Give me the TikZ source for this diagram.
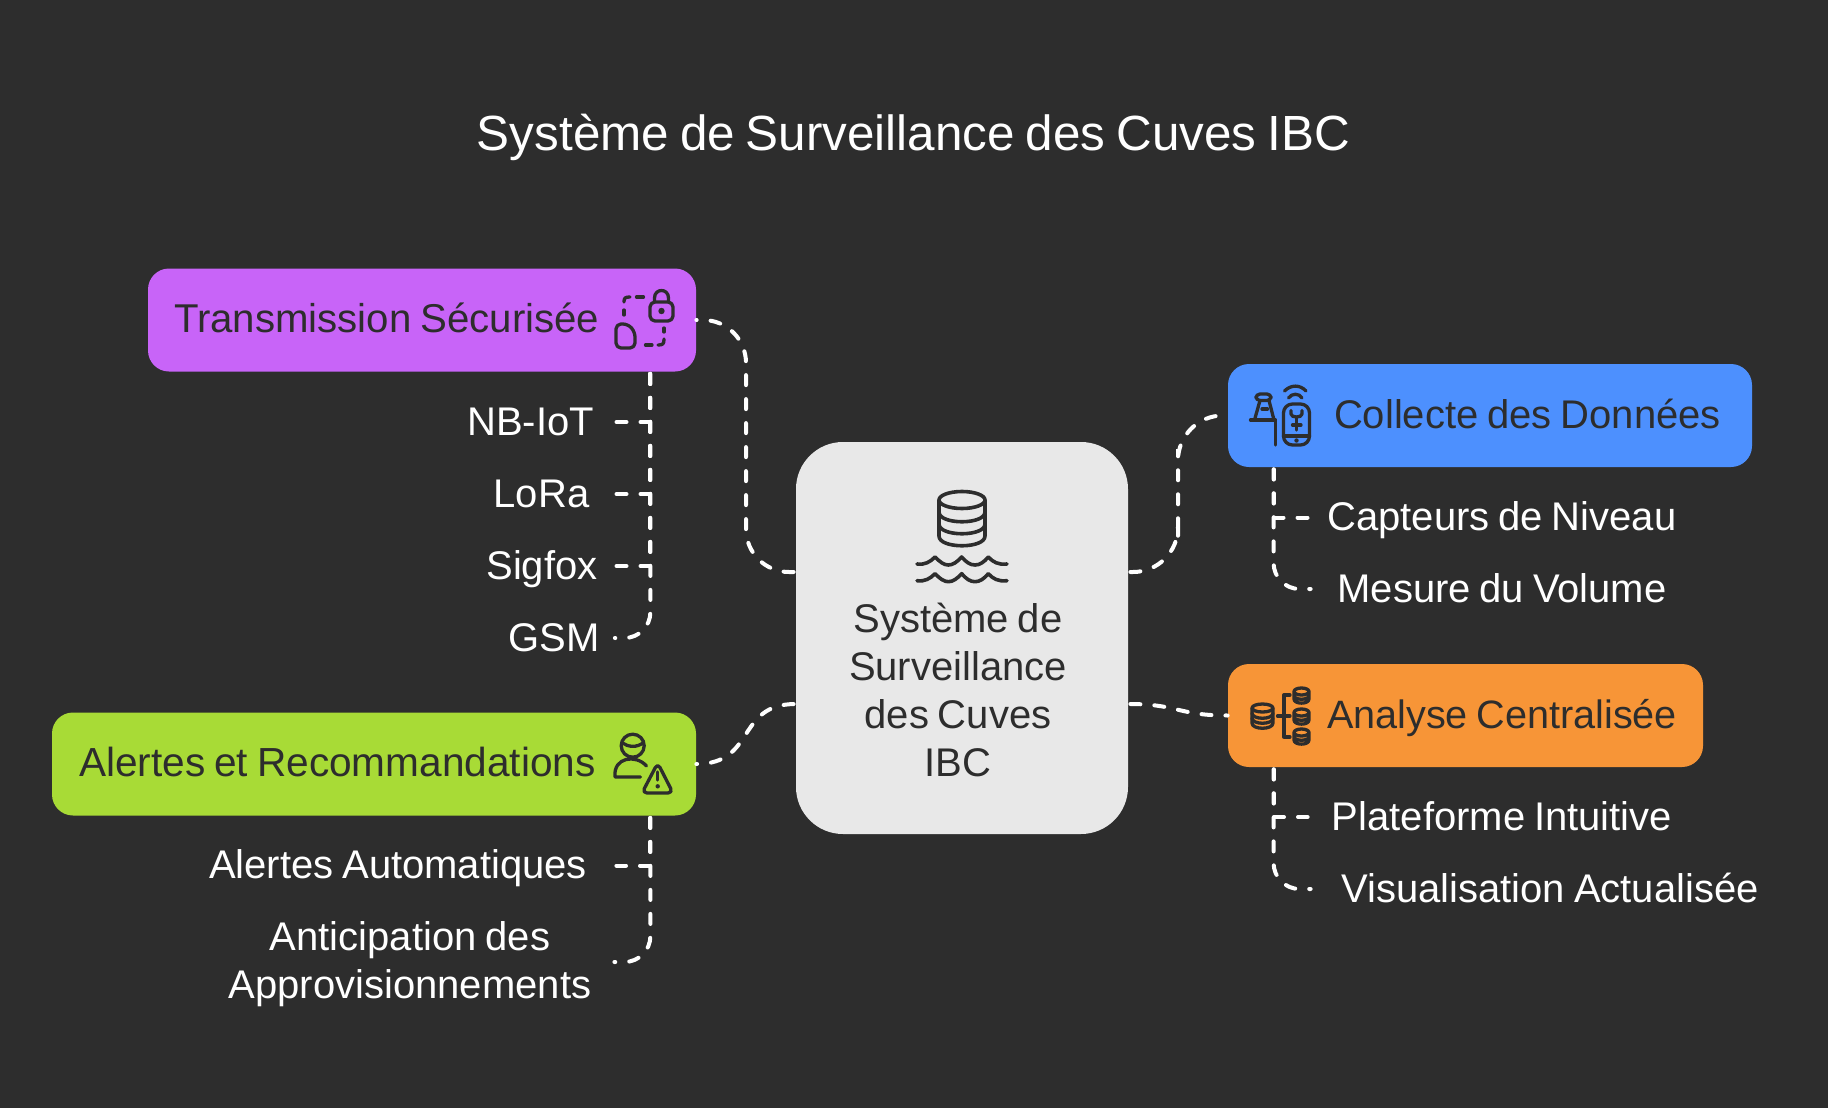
\documentclass[tikz,border=0pt]{standalone}
\usepackage{fontspec}
\setmainfont[WordSpace=0.8]{Liberation Sans}
\definecolor{boardgray}{HTML}{2D2D2D}
\definecolor{hubgray}{HTML}{E8E8E8}
\definecolor{transpurple}{HTML}{C864F8}
\definecolor{collectblue}{HTML}{4D90FE}
\definecolor{analyseorange}{HTML}{F79537}
\definecolor{alertgreen}{HTML}{A8DB36}
\begin{document}
\begin{tikzpicture}%
	[	x=0.5pt,
	y=-0.5pt,
	box/.style={rounded corners=10.5pt, minimum height=51.5pt, inner ysep=0pt, text height=13.5pt, text depth=1pt, text=boardgray, font=\fontsize{20}{24}\selectfont},
	hub/.style={rounded corners=23.5pt, minimum width=166pt, minimum height=196pt, fill=hubgray},
	hubtext/.style={align=center, text=boardgray, inner sep=0pt, font=\fontsize{20}{24}\selectfont},
	leaftwo/.style={align=center, text=white, inner xsep=0pt, inner ysep=2pt, font=\fontsize{20}{24}\selectfont},
	leaf/.style={leaftwo, text height=15pt, text depth=2pt},
	link/.style={draw=white, line width=2pt, line cap=round, dash pattern=on 5pt off 7pt, dash phase=11pt},
	linkbend/.style={link, rounded corners=21.5pt},
	linkfoot/.style={link, rounded corners=13pt},
	icon/.style={draw=boardgray, line width=1.65pt, line cap=round, line join=round}]

\fill[boardgray] (0,0) rectangle (1828,1108);
\useasboundingbox (0,0) rectangle (1828,1108);

\node[text=white, inner sep=0pt, font=\fontsize{24.7}{28}\selectfont] (title) at (913.5,137.5) {Système de Surveillance des Cuves IBC};

% boxes
\node[hub] (hub) at (962,638) {};
\node[hubtext] (hubname) at (958,690) {Système de\\Surveillance\\des Cuves\\IBC};
\node[box, fill=transpurple, text width=248pt, inner xsep=13pt, align=flush left, font=\fontsize{20.1}{24}\selectfont] (trans) at (422,320) {Transmission Sécurisée};
\node[box, fill=collectblue, text width=231pt, inner xsep=15.5pt, align=flush right] (collect) at (1490,415.5) {Collecte des Données};
\node[box, fill=analyseorange, text width=211.5pt, inner xsep=13pt, align=flush right, font=\fontsize{19.8}{24}\selectfont] (analyse) at (1465.5,715.5) {Analyse Centralisée};
\node[box, fill=alertgreen, text width=295pt, inner xsep=13.5pt, align=flush left, font=\fontsize{20.3}{24}\selectfont] (alert) at (374,764) {Alertes et Recommandations};

% leaves
\node[leaf, minimum width=85.5pt] (nbiot) at (530.5,422) {NB-IoT};
\node[leaf, minimum width=74.5pt] (lora) at (541.5,494) {LoRa};
\node[leaf, minimum width=74pt] (sigfox) at (542,566) {Sigfox};
\node[leaf, minimum width=60.5pt] (gsm) at (554,638) {GSM};
\node[leaf, minimum width=218pt] (alertauto) at (398,865.5) {Alertes Automatiques};
\node[leaftwo, minimum width=204pt] (anticipation) at (410,964) {Anticipation des\\Approvisionnements};
\node[leaf, minimum width=194pt] (capteurs) at (1502,517.5) {Capteurs de Niveau};
\node[leaf, minimum width=191pt] (mesure) at (1502,589) {Mesure du Volume};
\node[leaf, minimum width=194pt] (plateforme) at (1502,817) {Plateforme Intuitive};
\node[leaf, minimum width=239pt] (visu) at (1550,889) {Visualisation Actualisée};

\coordinate (transbend) at (746,446);
\coordinate (collectbend) at (1178,494);
\coordinate (transfoot) at ([xshift=-23pt]trans.south east);
\coordinate (alertfoot) at ([xshift=-23pt]alert.south east);
\coordinate (collectfoot) at ([xshift=23pt]collect.south west);
\coordinate (analysefoot) at ([xshift=23pt]analyse.south west);

% hub links
\draw[linkbend] ([yshift=33pt]hub.west) -| (transbend) |- (trans.east);
\draw[link] ([yshift=-33pt]hub.west) .. controls +(-60,0) and ([xshift=30pt]alert.east) .. (alert.east);
\draw[linkbend, rounded corners=22.5pt] ([yshift=33pt]hub.east) -| (collectbend) |- (collect.west);
\draw[link] ([yshift=-33pt]hub.east) .. controls +(50,0) and ([xshift=-25pt]analyse.west) .. (analyse.west);

% leaf links
\draw[link] (transfoot) |- (nbiot.east);
\draw[link] (transfoot) |- (lora.east);
\draw[link] (transfoot) |- (sigfox.east);
\draw[linkfoot] (transfoot) |- (gsm.east);
\draw[link] (alertfoot) |- (alertauto.east);
\draw[linkfoot] (alertfoot) |- ([yshift=1pt]anticipation.east);
\draw[link] (collectfoot) |- (capteurs.west);
\draw[linkfoot] (collectfoot) |- (mesure.west);
\draw[link] (analysefoot) |- (plateforme.west);
\draw[linkfoot] (analysefoot) |- (visu.west);

% hub icon
\draw[icon, line width=1.8pt] (962,500) ellipse [x radius=23, y radius=8.5];
\draw[icon, line width=1.8pt] (939,500) -- (939,536) .. controls (939,549) and (985,549) .. (985,536) -- (985,500);
\draw[icon, line width=1.8pt] (939,512) .. controls (939,525) and (985,525) .. (985,512);
\draw[icon, line width=1.8pt] (939,524) .. controls (939,537) and (985,537) .. (985,524);
\foreach \wavey in {564,580.7}
	\draw[icon, line width=1.8pt, shift={(0,\wavey)}] (917,0) .. controls (925,1) and (930,-2) .. (935,-7) .. controls (940,-2) and (944,1) .. (948.3,1) .. controls (953,1) and (957,-2) .. (961.7,-7) .. controls (966,-2) and (970,1) .. (975,1) .. controls (980,1) and (984,-2) .. (988.3,-7) .. controls (993,-2) and (998,1) .. (1007,0);

% trans icon
\draw[icon, rounded corners=2.5pt] (650,302) rectangle (673,321);
\draw[icon] (654.5,302) -- (654.5,298) .. controls (654.5,288) and (668.5,288) .. (668.5,298) -- (668.5,302);
\fill[boardgray] (661.5,311) circle (3.2);
\draw[icon] (624,302) .. controls (624,298) and (625,297) .. (630,297);
\draw[icon] (636.5,297) -- (643.5,297);
\draw[icon] (624,310) -- (624,315);
\draw[icon] (664,328) -- (664,332);
\draw[icon] (664,339) .. controls (664,344) and (663,345) .. (658,345);
\draw[icon] (645.5,345) -- (652,345);
\draw[icon, rounded corners=2.5pt] (616,324) -- (628,324) -- (635,332) -- (635,348) -- (616,348) -- cycle;

% collect icon
\draw[icon, rounded corners=2pt] (1256,394) rectangle (1271,400.5);
\draw[icon] (1260,400.5) -- (1254.5,420) (1269,400.5) -- (1274,420);
\draw[icon] (1250.5,420) -- (1275.5,420) -- (1275.5,445);
\draw[icon] (1262,409) -- (1267.5,409);
\draw[icon, rounded corners=4.5pt] (1283.5,404) rectangle (1309.5,445);
\draw[icon] (1283.5,436) -- (1309.5,436);
\fill[boardgray] (1296.5,440.5) circle (2.2);
\draw[icon] (1291,410.5) -- (1291,414) .. controls (1291,418) and (1302,418) .. (1302,414) -- (1302,410.5);
\draw[icon] (1296.5,418) -- (1296.5,430);
\draw[icon] (1292.5,425) -- (1301,425);
\draw[icon] (1284.5,391) .. controls (1291,384.5) and (1300,384.5) .. (1306,391);
\draw[icon] (1288.5,398) .. controls (1292,393) and (1299,393) .. (1302,398);

% analyse icon
\draw[icon] (1262.5,708) ellipse [x radius=10.5, y radius=4];
\draw[icon] (1252,708) -- (1252,723) .. controls (1252,730) and (1273,730) .. (1273,723) -- (1273,708);
\draw[icon] (1252,713) .. controls (1252,720) and (1273,720) .. (1273,713);
\draw[icon] (1252,718) .. controls (1252,725) and (1273,725) .. (1273,718);
\draw[icon] (1277.5,716) -- (1290,716);
\draw[icon] (1290,695) -- (1284,695) -- (1284,737) -- (1290,737);
\foreach \dby in {686,707,727}
	\draw[icon, shift={(1301.5,\dby)}] (0,5.5) ellipse [x radius=7.5, y radius=3.5] (-7.5,5.5) -- (-7.5,13) .. controls (-7.5,18.5) and (7.5,18.5) .. (7.5,13) -- (7.5,5.5) (-7.5,9.5) .. controls (-7.5,14.5) and (7.5,14.5) .. (7.5,9.5);

% alert icon
\draw[icon] (632.7,745.7) circle (11.5);
\draw[icon] (622.5,743) .. controls (628,747) and (637,748) .. (643.5,742.5);
\draw[icon] (646.5,766) .. controls (636,754) and (613,757) .. (615,777) -- (640.5,777);
\draw[icon, rounded corners=2.5pt] (657.7,763) -- (673,793) -- (642,793) -- cycle;
\draw[icon] (657.7,772) -- (657.7,780);
\fill[boardgray] (657.7,786.3) circle (2.2);

\end{tikzpicture}
\end{document}
